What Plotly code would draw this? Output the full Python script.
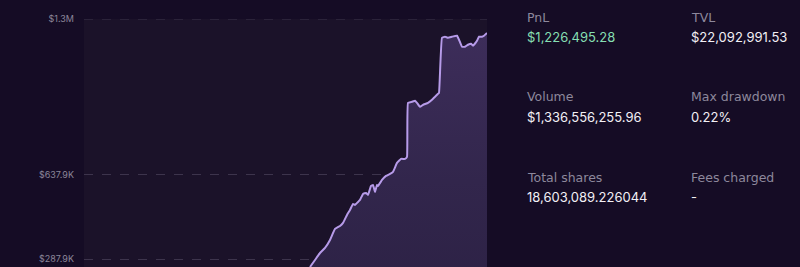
import plotly.graph_objects as go

# Data (PnL in thousands of USD, x in days)
days = [226, 231, 236, 241, 246, 251, 256, 259, 263, 266, 269, 271, 274, 276, 279, 282, 284, 287, 289, 291,
        293, 294, 298, 302, 306, 309, 313, 317, 321, 323, 324, 328, 331, 333, 336, 339, 344, 348, 351, 354,
        355, 358, 361, 364, 368, 373, 375, 378, 381, 384, 387, 389, 393, 395, 398, 400, 403]
pnl_k = [255.9, 285.0, 314.0, 334.8, 368.0, 413.7, 426.1, 438.6, 471.8, 492.6,
         517.5, 513.3, 525.8, 534.1, 559.0, 563.2, 554.9, 592.2, 596.4, 567.3,
         596.4, 592.2, 617.1, 633.7, 642.1, 650.4, 687.7, 704.3, 704.3, 712.6,
         936.8, 941.0, 945.1, 936.8, 920.2, 928.5, 936.8, 949.3, 961.8, 974.2,
         978.4, 1206.7, 1210.9, 1206.7, 1210.9, 1215.0, 1198.4, 1169.4, 1169.4, 1177.7,
         1181.8, 1173.5, 1194.3, 1210.9, 1210.9, 1215.0, 1226.5]
tick_vals_k = [287.9, 637.9, 1284.4]
tick_text = ["$287.9K", "$637.9K", "$1.3M"]

stat_labels = ["PnL", "TVL", "Volume", "Max drawdown", "Total shares", "Fees charged"]
stat_values = ["$1,226,495.28", "$22,092,991.53", "$1,336,556,255.96", "0.22%", "18,603,089.226044", "-"]

BG = "#150c25"
PLOT_BG = "#1b1229"
FONT = "Inter, Lato, sans-serif"
GRID = "#3d344c"
Y_MIN, Y_MAX = 255.9, 1284.4

fig = go.Figure()
fig.add_trace(go.Scatter(
    x=days, y=pnl_k, mode="lines",
    line=dict(color="#b79be9", width=2, shape="spline", smoothing=0.3),
    fill="tozeroy",
    fillgradient=dict(type="vertical",
                      colorscale=[[0, "#2b2043"], [0.5, "#32264c"], [1, "#3d2d5a"]]),
    hoverinfo="skip",
))

# top gridline sits on the plot edge, draw it explicitly
fig.add_shape(type="line", xref="paper", yref="y", x0=0, x1=1, y0=Y_MAX, y1=Y_MAX,
              line=dict(color=GRID, width=1, dash="dash"), layer="below")

fig.update_layout(
    width=800, height=267,
    margin=dict(l=84, r=313, t=19, b=0),
    paper_bgcolor=BG, plot_bgcolor=PLOT_BG,
    showlegend=False,
    xaxis=dict(range=[0, 403], visible=False, fixedrange=True),
    yaxis=dict(range=[Y_MIN, Y_MAX], tickvals=tick_vals_k, ticktext=tick_text,
               showgrid=True, gridcolor=GRID, griddash="dash", gridwidth=1,
               zeroline=False, showline=False, ticks="", ticklabelstandoff=9,
               tickfont=dict(family=FONT, size=9, color="#8c8699")),
    font=dict(family=FONT),
)

cols_x = [527, 691]
rows_y = [17, 97, 177]
for i, (lab, val) in enumerate(zip(stat_labels, stat_values)):
    cx = cols_x[i % 2]
    ry = rows_y[i // 2]
    fig.add_annotation(xref="paper", yref="paper",
                       x=(cx - 84) / 403, y=1 - (ry - 19) / 248,
                       text=lab, showarrow=False, xanchor="left", yanchor="middle",
                       xshift=-2,
                       font=dict(family="DejaVu Sans, sans-serif", size=12.5, color="#8d889c"))
    fig.add_annotation(xref="paper", yref="paper",
                       x=(cx - 84) / 403, y=1 - (ry + 20 - 19) / 248,
                       text=val, showarrow=False, xanchor="left", yanchor="middle",
                       xshift=-2,
                       font=dict(family=FONT, size=13,
                                 color="#86dfb2" if lab == "PnL" else "#f2f0f5"))

fig.write_html("out.html")
